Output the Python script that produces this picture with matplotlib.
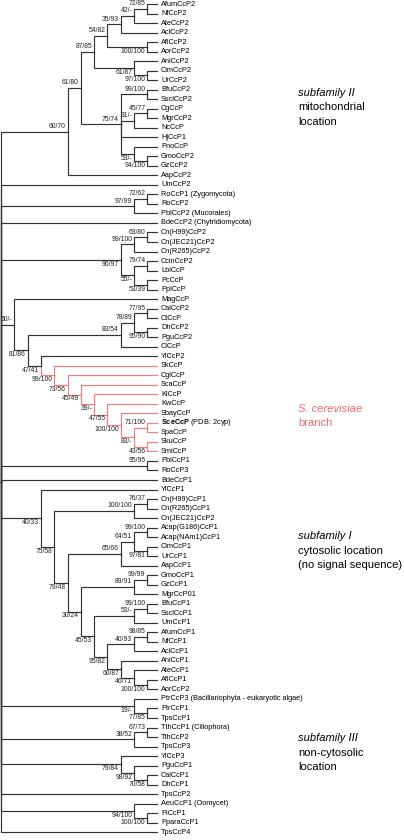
import itertools
import matplotlib
matplotlib.use('Agg')
import matplotlib.pyplot as plt
from matplotlib import rcParams

rcParams['font.family'] = ['Liberation Sans', 'DejaVu Sans']
rcParams['mathtext.fontset'] = 'custom'
rcParams['mathtext.rm'] = 'Liberation Sans'
rcParams['mathtext.bf'] = 'Liberation Sans:bold'
rcParams['mathtext.it'] = 'Liberation Sans:italic'

# Each internal node: (bootstrap label, label placement 'a'bove / 'b'elow, children)
subfam2 = ("60/70", "a", [
    ("61/80", "a", [
        ("87/85", "a", [
            ("54/82", "a", [
                ("35/93", "a", [
                    ("42/-", "a", [("72/85", "a", ["AfumCcP2", "NfCcP2"]), "AteCcP2"]),
                    "AclCcP2"]),
                ("100/100", "b", ["AflCcP2", "AorCcP2"])]),
            ("61/87", "b", ["AniCcP2", ("97/100", "b", ["CimCcP2", "UrCcP2"])])]),
        ("75/74", "a", [
            ("99/100", "a", ["BfuCcP2", "SsclCcP2"]),
            ("31/-", "a", [("45/77", "a", ["CgCcP", "MgrCcP2"]), "NcCcP"]),
            "HjCcP1",
            ("53/-", "b", ["PnoCcP", ("94/100", "b", ["GmoCcP2", "GzCcP2"])])])]),
    "AapCcP2"])

zygo = ("97/99", "a", [("72/62", "a", ["RoCcP1 (Zygomycota)", "RoCcP2"]),
                       "PblCcP2 (Mucorales)"])

basidio = ("90/97", "b", [
    ("99/100", "a", [("63/80", "a", ["Cn(H99)CcP2", "Cn(JEC21)CcP2"]), "Cn(R265)CcP2"]),
    ("55/-", "b", [("79/74", "a", ["CcinCcP2", "LbiCcP"]),
                   ("53/39", "b", ["PcCcP", "PplCcP"])])])

scer = ("99/100", "b", ["SkCcP", ("73/56", "b", ["CglCcP", ("45/49", "b", ["ScaCcP",
        ("39/-", "b", ["KlCcP", ("47/55", "b", ["KwCcP", ("100/100", "b", ["SbayCcP",
        ("83/-", "b", [("71/100", "a", ["SceCcP", "SpaCcP"]),
                       ("43/56", "b", ["SkuCcP", "SmiCcP"])])])])])])])])

yeast = ("50/-", "a", ["MagCcP", ("81/86", "b", [
    ("83/54", "a", [("78/89", "a", [("77/95", "a", ["CalCcP2", "CtCcP"]),
                                    ("95/90", "b", ["DhCcP2", "PguCcP2"])]),
                    "ClCcP"]),
    ("47/41", "b", ["YlCcP2", scer])])])

pblro = ("95/95", "a", ["PblCcP1", "RoCcP3"])

subfam1 = ("40/33", "b", ["YlCcP1", ("75/58", "b", [
    ("100/100", "a", [("76/37", "a", ["Cn(H99)CcP1", "Cn(R265)CcP1"]), "Cn(JEC21)CcP2"]),
    ("79/48", "b", [
        ("65/66", "a", [("64/51", "a", [("99/100", "a", ["Acap(G186)CcP1", "Acap(NAm1)CcP1"]),
                                        ("97/81", "b", ["CimCcP1", "UrCcP1"])]),
                        "AapCcP1"]),
        ("30/24", "b", [
            ("89/91", "a", [("99/99", "a", ["GmoCcP1", "GzCcP1"]), "MgrCcP01"]),
            ("45/53", "b", [
                ("53/-", "a", [("99/100", "a", ["BfuCcP1", "SsclCcP1"]), "UmCcP1"]),
                ("95/82", "b", [
                    ("40/93", "a", [("98/85", "a", ["AfumCcP1", "NfCcP1"]), "AclCcP1"]),
                    ("60/87", "b", ["AniCcP1", ("46/71", "b", ["AteCcP1",
                                    ("100/100", "b", ["AflCcP1", "AorCcP2"])])])])])])])])])

ptr = ("19/-", "b", ["PtrCcP3 (Bacillariophyta - eukaryotic algae)",
                     ("77/85", "b", ["PtrCcP1", "TpsCcP1"])])
tth = ("38/52", "a", [("67/73", "a", ["TthCcP1 (Ciliophora)", "TthCcP2"]), "TpsCcP3"])
yl3 = ("79/84", "b", ["YlCcP3", ("98/92", "b", ["PguCcP1", ("70/58", "b", ["CalCcP1", "DhCcP1"])])])
oomy = ("94/100", "b", ["AeuCcP1 (Oomycet)", ("100/100", "b", ["PiCcP1", "PparaCcP1"])])

root = ("", "a", [subfam2, "UmCcP2", zygo, "BdeCcP2 (Chytridiomycota)", basidio, yeast,
                  pblro, "BdeCcP1", subfam1, ptr, tth, yl3, "TpsCcP2", oomy, "TpsCcP4"])

side_notes = [
    (["subfamily II", "mitochondrial", "location"], 93, 'black'),
    (["S. cerevisiae", "branch"], 409, '#f06a6a'),
    (["subfamily I", "cytosolic location", "(no signal sequence)"], 536, 'black'),
    (["subfamily III", "non-cytosolic", "location"], 738, 'black'),
]

LINE = '#333333'
RED = '#f47c7c'


def height(n):
    if isinstance(n, str):
        return 0
    return 1 + max(height(c) for c in n[2])


H_ROOT = height(root)
TIP_X = H_ROOT - 1 + 0.75

# pixel geometry: root at px 1, 13.3 px per level; leaves at 4 + 9.52*i
W, H = 404, 840
PX_X, X0 = 13.3, 1.0
PX_Y, Y0 = 9.52, 4.0

fig = plt.figure(figsize=(W / 100, H / 100), dpi=100)
ax = fig.add_axes([0, 0, 1, 1])
ax.set_xlim(-X0 / PX_X, (W - X0) / PX_X)
ax.set_ylim((H - Y0) / PX_Y, -Y0 / PX_Y)
ax.axis('off')

leaf_idx = itertools.count()
red_nodes = []


def mark_red(n):
    if not isinstance(n, str):
        red_nodes.append(n)
        for c in n[2]:
            mark_red(c)


def draw(n):
    """Draw subtree n, return its (x, y)."""
    if isinstance(n, str):
        y = next(leaf_idx)
        txt = r"$\mathbf{SceCcP}$ (PDB: 2cyp)" if n == "SceCcP" else n
        ax.annotate(txt, (TIP_X, y), xytext=(2.6, 0), textcoords='offset points',
                    ha='left', va='center', fontsize=5.3)
        return TIP_X, y
    kids = [draw(c) for c in n[2]]
    x = H_ROOT - height(n)
    y = (kids[0][1] + kids[-1][1]) / 2
    for c, (cx, cy) in zip(n[2], kids):
        red = c is scer or any(n is r for r in red_nodes)
        ax.plot([x, x, cx], [y, cy, cy], color=RED if red else LINE, lw=0.85,
                solid_capstyle='projecting', solid_joinstyle='miter')
    lab, where, _ = n
    if lab:
        dy = 1.2 if where == 'a' else -0.6
        ax.annotate(lab, (x, y), xytext=(-1.3, dy), textcoords='offset points',
                    ha='right', va='bottom' if where == 'a' else 'top',
                    fontsize=4.9, color='#222222')
    return x, y


mark_red(scer)
draw(root)

for lines, ytop, col in side_notes:
    for k, t in enumerate(lines):
        style = 'italic' if k == 0 else 'normal'
        fig.text(298 / W, 1 - (ytop + 14.5 * k) / H, t, fontsize=8, color=col,
                 style=style, ha='left', va='center')

fig.savefig('out.png', dpi=100)
